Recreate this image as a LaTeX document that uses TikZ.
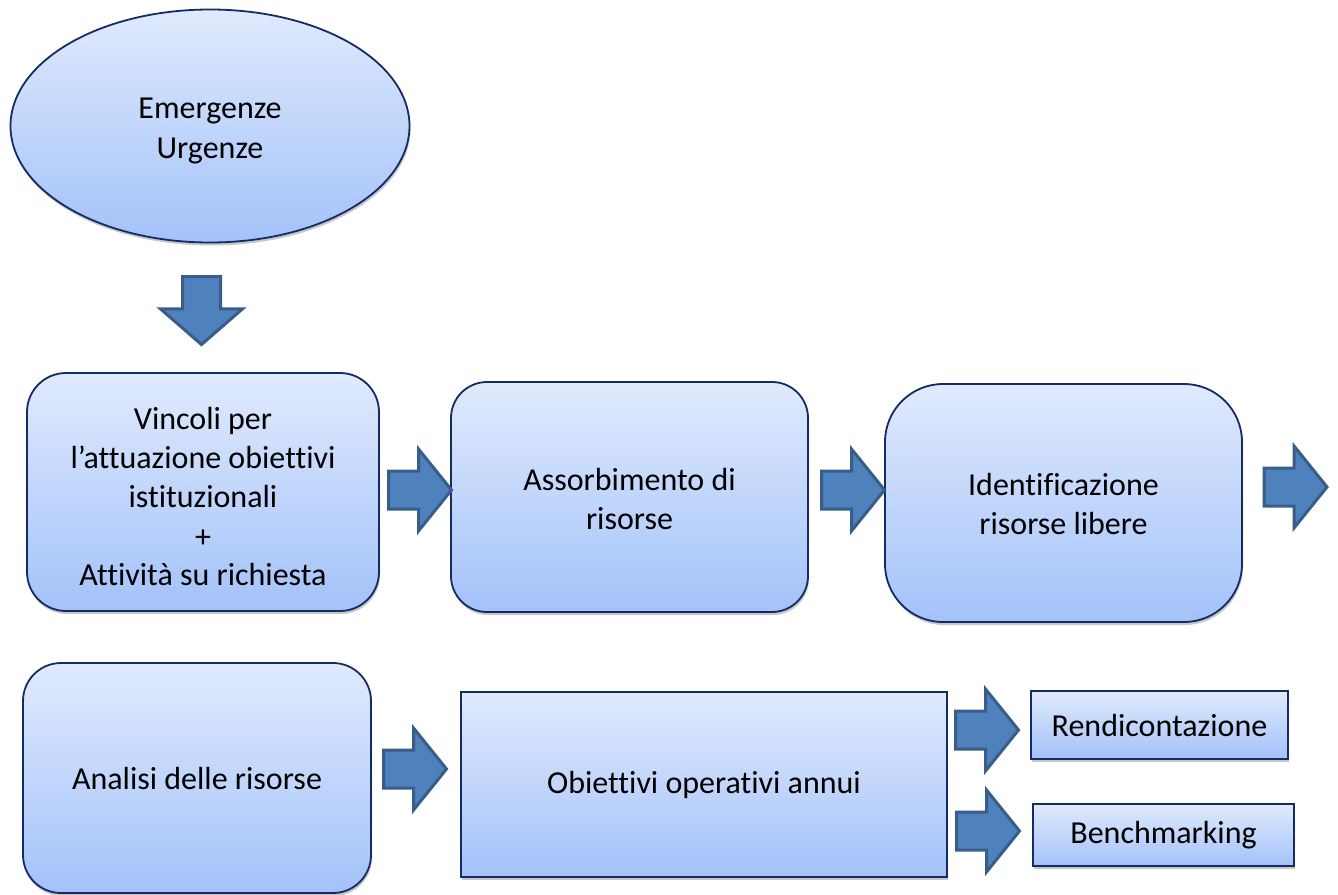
\documentclass[tikz,border=0pt]{standalone}
\usepackage{fontspec}
\setmainfont{Carlito}[Ligatures={CommonOff}]
\usetikzlibrary{shapes.geometric,shadows}

\definecolor{boxtop}{RGB}{224,234,253}
\definecolor{boxbot}{RGB}{163,194,249}
\definecolor{boxline}{RGB}{22,42,100}
\definecolor{arrowfill}{RGB}{79,129,189}
\definecolor{arrowline}{RGB}{56,93,138}

\begin{document}
\begin{tikzpicture}[x=1pt,y=-1pt,
  base/.style={draw=boxline, line width=1.8pt, top color=boxtop, bottom color=boxbot,
    inner sep=0pt, outer sep=0pt,
    drop shadow={shadow xshift=1pt, shadow yshift=-3pt, opacity=0.22, fill=black}},
  roundbox/.style={base, rounded corners=#1},
  plainbox/.style={base},
  ovalbox/.style={base, ellipse},
  txt/.style={font=\fontsize{32}{39}\selectfont, align=center, inner sep=0pt},
  arrowbody/.style={fill=arrowfill, draw=arrowline, line width=3pt, line join=miter},
  barrow/.pic={
    \filldraw[arrowbody] (0,-19) -- (30,-19) -- (30,-41) -- (63,0) -- (30,41) -- (30,19) -- (0,19) -- cycle;
  }
]
\useasboundingbox (0,0) rectangle (1338,894);

% top oval
\node[ovalbox, minimum width=399pt, minimum height=233pt] (emerg) at (210,126) {};
\node[txt, font=\fontsize{32}{40}\selectfont] (emergtxt) at (210,131) {Emergenze\\Urgenze};

% first row
\node[roundbox=39pt, minimum width=352pt, minimum height=238pt] (vincoli) at (203,492) {};
\node[txt] (vincolitxt) at (203,497)
  {Vincoli per\\l’attuazione obiettivi\\istituzionali\\+\\Attività su richiesta};

\node[roundbox=36pt, minimum width=357pt, minimum height=230pt] (assorb) at (629.5,497) {};
\node[txt] (assorbtxt) at (629.5,499) {Assorbimento di\\risorse};

\node[roundbox=58pt, minimum width=357pt, minimum height=238pt] (ident) at (1063.5,503) {};
\node[txt] (identtxt) at (1063.5,504) {Identificazione\\risorse libere};

% second row
\node[roundbox=38pt, minimum width=348pt, minimum height=230pt] (analisi) at (197,778) {};
\node[txt] (analisitxt) at (analisi.center) {Analisi delle risorse};

\node[plainbox, minimum width=486pt, minimum height=185pt] (obiett) at (704,784.5) {};
\node[txt] (obietttxt) at (obiett.center) {Obiettivi operativi annui};

\node[plainbox, minimum width=257pt, minimum height=68pt] (rendic) at (1159.5,725) {};
\node[txt] (rendictxt) at (rendic.center) {Rendicontazione};

\node[plainbox, minimum width=261pt, minimum height=62pt] (bench) at (1163.5,835) {};
\node[txt] (benchtxt) at (bench.center) {Benchmarking};

% block arrows
\pic[rotate=-90, xscale=1.08] at (201.5,276.5) {barrow};
\pic at (388.5,490) {barrow};
\pic at (821.5,490) {barrow};
\pic at (1264,487) {barrow};
\pic at (383.5,769) {barrow};
\pic at (955.5,730) {barrow};
\pic at (956.5,831) {barrow};
\end{tikzpicture}
\end{document}
